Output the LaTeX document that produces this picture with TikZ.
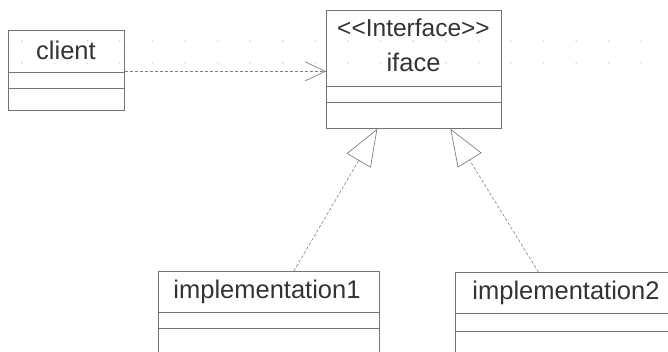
\documentclass[tikz,border=0pt]{standalone}
\usepackage{fontspec}
\setmainfont{Liberation Sans}
\usetikzlibrary{arrows.meta}

\begin{document}
\begin{tikzpicture}[x=1pt, y=-1pt,
  umlbox/.style={draw=black!55, line width=0.7pt, inner sep=0pt, anchor=north west},
  sep/.style={draw=black!55, line width=0.7pt},
  title/.style={text=black!80, inner sep=0pt, font=\fontsize{25.5}{30}\selectfont},
  stereo/.style={text=black!80, inner sep=0pt, font=\fontsize{24.5}{29}\selectfont},
  dep/.style={draw=black!50, line width=0.6pt, dash pattern=on 3pt off 2pt,
              -{Straight Barb[length=20pt, width=19pt, line width=0.7pt]}},
  realize/.style={draw=black!50, line width=0.6pt, dash pattern=on 3pt off 2pt,
              -{Triangle[open, length=37pt, width=28pt, line width=0.7pt]}},
  griddot/.style={fill=black!12, draw=none}]

\useasboundingbox (0,0) rectangle (668,351);
\clip (0,0) rectangle (668,351);

% faint editor grid
\foreach \k in {0,...,19} {
  \fill[griddot] (22+32.6*\k, 41) circle (1.1pt);
  \fill[griddot] (22+32.6*\k, 63) circle (1.1pt);
}

% class boxes
\node[umlbox, minimum width=116pt, minimum height=80pt]  (client) at (8,30)    {};
\node[umlbox, minimum width=175pt, minimum height=118pt] (iface)  at (326,10)  {};
\node[umlbox, minimum width=221pt, minimum height=100pt] (impl1)  at (158,271) {};
\node[umlbox, minimum width=221pt, minimum height=100pt] (impl2)  at (455,272) {};

% compartment separators
\draw[sep] ([yshift=-42pt]client.north west) -- ([yshift=-42pt]client.north east);
\draw[sep] ([yshift=-58pt]client.north west) -- ([yshift=-58pt]client.north east);
\draw[sep] ([yshift=-76pt]iface.north west)  -- ([yshift=-76pt]iface.north east);
\draw[sep] ([yshift=-92pt]iface.north west)  -- ([yshift=-92pt]iface.north east);
\draw[sep] ([yshift=-41pt]impl1.north west)  -- ([yshift=-41pt]impl1.north east);
\draw[sep] ([yshift=-57pt]impl1.north west)  -- ([yshift=-57pt]impl1.north east);
\draw[sep] ([yshift=-41pt]impl2.north west)  -- ([yshift=-41pt]impl2.north east);
\draw[sep] ([yshift=-59pt]impl2.north west)  -- ([yshift=-59pt]impl2.north east);

% names
\node[title]  (clientname) at (66,50)    {client};
\node[stereo] (ifacest)    at (413.5,28) {<{}<Interface>{}>};
\node[title]  (ifacename)  at (413.5,62) {iface};
\node[title]  (impl1name)  at (267,292)  {implementation1};
\node[title]  (impl2name)  at (566,293)  {implementation2};

% dependency and realizations
\draw[dep] ([yshift=-1pt]client.east) -- ([yshift=-1pt]client.east -| iface.west);
\draw[realize] ([xshift=25pt]impl1.north) -- ([xshift=-36.5pt]iface.south);
\draw[realize] ([xshift=-27.5pt]impl2.north) -- ([xshift=36.5pt]iface.south);
\end{tikzpicture}
\end{document}
